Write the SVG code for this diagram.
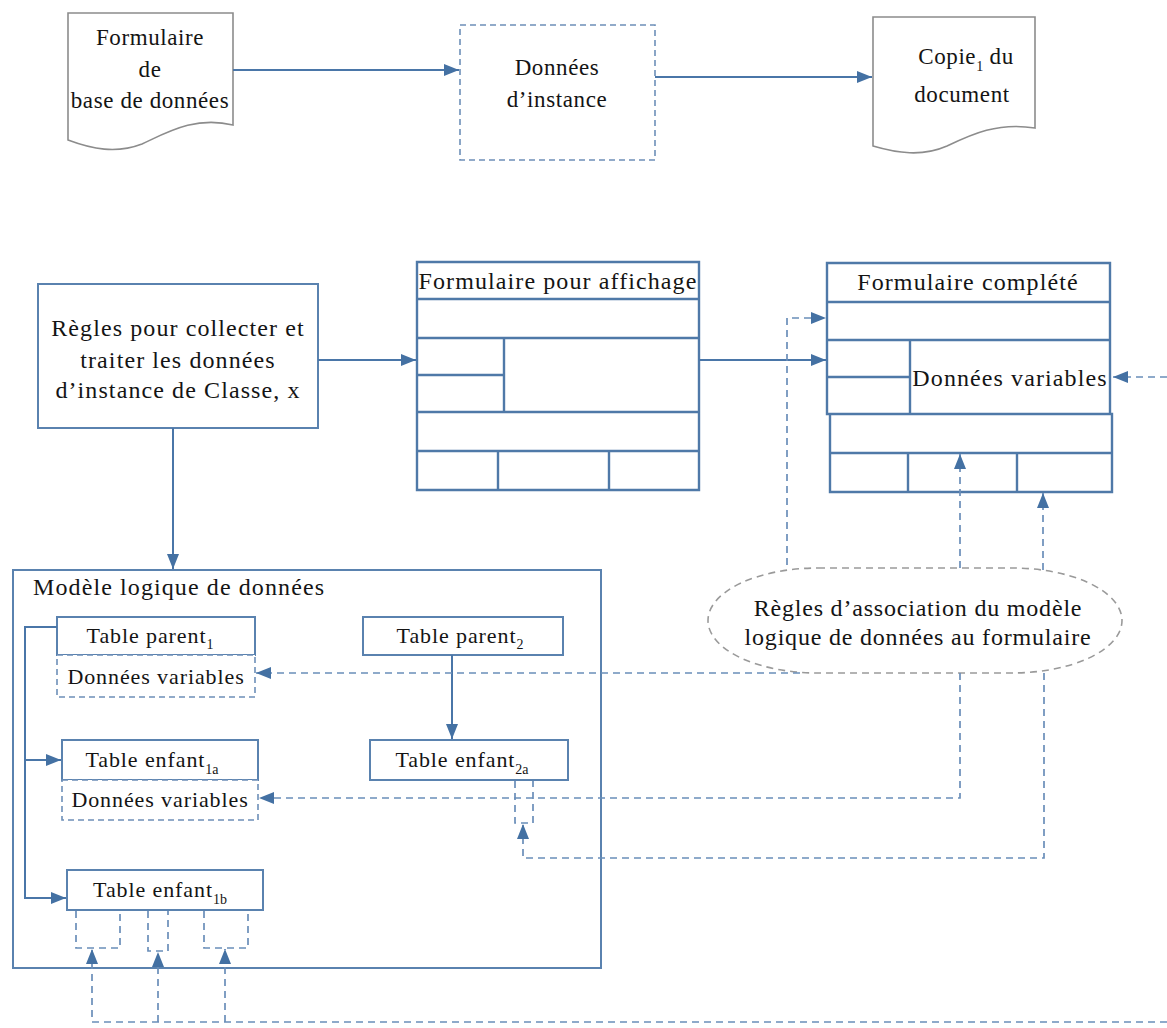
<svg xmlns="http://www.w3.org/2000/svg" width="1167" height="1028" viewBox="0 0 1167 1028">
<defs>
<marker id="ah" markerUnits="userSpaceOnUse" markerWidth="16" markerHeight="14" refX="15" refY="7" orient="auto">
<path d="M0,1 L15,7 L0,13 Z" fill="#4471a3"/>
</marker>
<style>
text{font-family:"Liberation Serif","Times New Roman",serif;fill:#141414;}
.t22{font-size:23px;letter-spacing:0.6px;}
.t24{font-size:24px;letter-spacing:1.1px;}
.t22b{font-size:22px;letter-spacing:0.9px;}
.sub{font-size:14px;letter-spacing:0;}
.doc{fill:#fff;stroke:#8c8c8c;stroke-width:1.6;}
.box{fill:#fff;stroke:#5a82af;stroke-width:2;}
.form{fill:none;stroke:#4f79a8;stroke-width:2.4;}
.dbox{fill:#fff;stroke:#6d8fb8;stroke-width:1.6;stroke-dasharray:6,4;}
.solid{fill:none;stroke:#4a76a8;stroke-width:2;}
.dash{fill:none;stroke:#6a8eb9;stroke-width:1.7;stroke-dasharray:7,5;}
.ell{fill:#fff;stroke:#9a9a9a;stroke-width:1.6;stroke-dasharray:7,5;}
</style>
</defs>

<g id="doc-formulaire-bd">
<path class="doc" d="M68,13 H233 V125 C195,116 168,132 142,144 C116,154 92,149 68,140 Z"/>
<text class="t22" x="150" y="45" text-anchor="middle">Formulaire</text>
<text class="t22" x="150" y="77" text-anchor="middle">de</text>
<text class="t22" x="150" y="108" text-anchor="middle">base de données</text>
</g>

<g id="donnees-instance">
<rect class="dbox" x="460" y="25" width="195" height="135"/>
<text class="t22" x="557" y="75" text-anchor="middle">Données</text>
<text class="t22" x="557" y="107" text-anchor="middle">d’instance</text>
</g>

<g id="doc-copie">
<path class="doc" d="M873,17 H1035 V128 C998,122 972,134 947,146 C922,157 897,153 873,146 Z"/>
<text class="t22" x="966" y="64" text-anchor="middle">Copie<tspan class="sub" dy="7">1</tspan><tspan dy="-7"> du</tspan></text>
<text class="t22" x="962" y="102" text-anchor="middle">document</text>
</g>

<g id="regles-collecter">
<rect class="box" x="38" y="284" width="280" height="144"/>
<text class="t24" x="178" y="336" text-anchor="middle">Règles pour collecter et</text>
<text class="t24" x="178" y="368" text-anchor="middle">traiter les données</text>
<text class="t24" x="178" y="398" text-anchor="middle">d’instance de Classe, x</text>
</g>

<g id="formulaire-affichage">
<rect x="417" y="262" width="282" height="228" fill="#fff"/>
<text class="t24" x="558" y="289" text-anchor="middle">Formulaire pour affichage</text>
<path class="form" d="M417,262 H699 V490 H417 Z M417,299 H699 M417,338 H699 M417,412 H699 M417,451 H699 M504,338 V412 M417,375 H504 M498,451 V490 M609,451 V490"/>
</g>

<g id="formulaire-complete">
<rect x="827" y="263" width="285" height="229" fill="#fff"/>
<text class="t24" x="968" y="290" text-anchor="middle">Formulaire complété</text>
<text class="t24" x="1010" y="386" text-anchor="middle">Données variables</text>
<path class="form" d="M827,263 H1110 V414 H827 Z M827,302 H1110 M827,340 H1110 M910,340 V414 M827,377 H910 M830,414 H1112 V492 H830 Z M830,453 H1112 M908,453 V492 M1017,453 V492"/>
</g>

<g id="regles-association">
<rect class="ell" x="708" y="568" width="414" height="105" rx="110" ry="52.5"/>
<text class="t24" x="918" y="616" text-anchor="middle" style="letter-spacing:0.8px">Règles d’association du modèle</text>
<text class="t24" x="918" y="645" text-anchor="middle" style="letter-spacing:0.8px">logique de données au formulaire</text>
</g>

<g id="modele-logique">
<rect class="box" x="13" y="570" width="588" height="398" fill="none"/>
<text class="t24" x="33" y="595">Modèle logique de données</text>
</g>

<g id="table-parent1">
<rect class="box" x="57" y="617" width="198" height="38"/>
<text class="t22b" x="150" y="643" text-anchor="middle">Table parent<tspan class="sub" dy="6">1</tspan></text>
<rect class="dbox" x="57" y="655" width="198" height="42"/>
<text class="t22b" x="156" y="684" text-anchor="middle">Données variables</text>
</g>

<g id="table-parent2">
<rect class="box" x="363" y="617" width="200" height="38"/>
<text class="t22b" x="460" y="643" text-anchor="middle">Table parent<tspan class="sub" dy="6">2</tspan></text>
</g>

<g id="table-enfant1a">
<rect class="box" x="62" y="740" width="196" height="40"/>
<text class="t22b" x="152" y="767" text-anchor="middle">Table enfant<tspan class="sub" dy="7">1a</tspan></text>
<rect class="dbox" x="62" y="780" width="196" height="40"/>
<text class="t22b" x="160" y="807" text-anchor="middle">Données variables</text>
</g>

<g id="table-enfant2a">
<rect class="box" x="370" y="740" width="198" height="40"/>
<text class="t22b" x="462" y="767" text-anchor="middle">Table enfant<tspan class="sub" dy="7">2a</tspan></text>
<path class="dash" d="M515,781 V823 H533 V781"/>
</g>

<g id="table-enfant1b">
<rect class="box" x="67" y="870" width="196" height="40"/>
<text class="t22b" x="160" y="897" text-anchor="middle">Table enfant<tspan class="sub" dy="7">1b</tspan></text>
<path class="dash" d="M76,911 V948 H120 V911 M148,911 V951 H168 V911 M204,911 V948 H248 V911"/>
</g>

<g id="connectors">
<path class="solid" d="M233,70 H459" marker-end="url(#ah)"/>
<path class="solid" d="M655,77 H872" marker-end="url(#ah)"/>
<path class="solid" d="M318,360 H416" marker-end="url(#ah)"/>
<path class="solid" d="M173,428 V569" marker-end="url(#ah)"/>
<path class="solid" d="M699,360 H826" marker-end="url(#ah)"/>
<path class="solid" d="M57,627 H25 V898 H66" marker-end="url(#ah)"/>
<path class="solid" d="M25,760 H61" marker-end="url(#ah)"/>
<path class="solid" d="M452,655 V739" marker-end="url(#ah)"/>

<path class="dash" d="M1167,377 H1113" marker-end="url(#ah)"/>
<path class="dash" d="M787,565 V318 H826" marker-end="url(#ah)"/>
<path class="dash" d="M960,568 V454" marker-end="url(#ah)"/>
<path class="dash" d="M1043,570 V493" marker-end="url(#ah)"/>
<path class="dash" d="M800,673 H256" marker-end="url(#ah)"/>
<path class="dash" d="M960,673 V798 H259" marker-end="url(#ah)"/>
<path class="dash" d="M1044,673 V858 H523 V824" marker-end="url(#ah)"/>
<path class="dash" d="M1167,1022 H92 V949" marker-end="url(#ah)"/>
<path class="dash" d="M158,1022 V952" marker-end="url(#ah)"/>
<path class="dash" d="M225,1022 V949" marker-end="url(#ah)"/>
</g>
</svg>
